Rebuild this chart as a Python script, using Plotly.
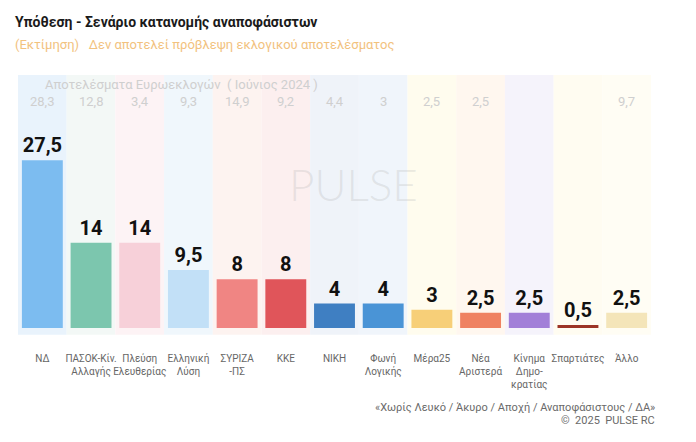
'''Pulse RC poll chart: undecided allocation scenario'''
import plotly.graph_objects as go

parties = ['ΝΔ', 'ΠΑΣΟΚ-Κίν.<br>Αλλαγής', 'Πλεύση<br>Ελευθερίας', 'Ελληνική<br>Λύση',
           'ΣΥΡΙΖΑ<br>-ΠΣ', 'ΚΚΕ', 'ΝΙΚΗ', 'Φωνή<br>Λογικής', 'Μέρα25',
           'Νέα<br>Αριστερά', 'Κίνημα<br>Δημο-<br>κρατίας', 'Σπαρτιάτες', 'Άλλο']
estimate = [27.5, 14, 14, 9.5, 8, 8, 4, 4, 3, 2.5, 2.5, 0.5, 2.5]
euro_2024 = [28.3, 12.8, 3.4, 9.3, 14.9, 9.2, 4.4, 3, 2.5, 2.5, None, None, 9.7]

bar_colors = ['#7cbcf0', '#7cc6ae', '#f7d0d9', '#c2e0f7', '#f08583', '#e0555a',
              '#3f7fc2', '#4a94d6', '#f7cf78', '#ef8262', '#a27fd8', '#9c3426', '#f4e5b9']
column_colors = ['#e9f3fc', '#f3f8f6', '#fdf3f5', '#f0f7fc', '#fdf3f0', '#fcefef',
                 '#eff3f9', '#f0f5fb', '#fffcee', '#fff7ef', '#f5f3fb', '#fffcf1', '#fffdf4']


def fmt(v):
    '''Greek style decimal comma'''
    return f'{v:g}'.replace('.', ',')


FONT = 'Roboto, sans-serif'

fig = go.Figure()
fig.add_trace(go.Bar(
    x=list(range(len(parties))), y=estimate,
    marker=dict(color=bar_colors, line=dict(width=0)),
    width=0.84,
    text=[fmt(v) for v in estimate], textposition='outside',
    textfont=dict(family=FONT, size=20, color='#111111', weight='bold'),
    cliponaxis=False, hoverinfo='skip'))

# faint coloured column behind each party
for i, c in enumerate(column_colors):
    fig.add_shape(type='rect', xref='x', yref='paper', x0=i - 0.5, x1=i + 0.5,
                  y0=0.02, y1=1, fillcolor=c, line=dict(width=0), layer='below')

# European elections results row
for i, v in enumerate(euro_2024):
    if v is not None:
        fig.add_annotation(x=i, y=37.1, text=fmt(v), showarrow=False,
                           font=dict(family=FONT, size=13, color='#cfcfcf'))
fig.add_annotation(xref='paper', x=0.04, y=39.9, xanchor='left',
                   text='Αποτελέσματα Ευρωεκλογών  ( Ιούνιος 2024 )', showarrow=False,
                   font=dict(family=FONT, size=13, color='#cfcfcf'))

# watermark
fig.add_annotation(xref='paper', yref='paper', x=0.53, y=0.59, text='PULSE',
                   showarrow=False,
                   font=dict(family='Lato, sans-serif', size=44, weight=300,
                             color='rgba(185,185,185,0.3)'))

# titles
fig.add_annotation(xref='paper', yref='paper', x=-0.008, y=1.238, xanchor='left',
                   text='<b>Υπόθεση - Σενάριο κατανομής αναποφάσιστων</b>', showarrow=False,
                   font=dict(family=FONT, size=14, color='#1a1a1a'))
fig.add_annotation(xref='paper', yref='paper', x=-0.008, y=1.152, xanchor='left',
                   text='(Εκτίμηση)   Δεν αποτελεί πρόβλεψη εκλογικού αποτελέσματος',
                   showarrow=False, font=dict(family=FONT, size=13, color='#f2c27e'))

# footer
fig.add_annotation(xref='paper', yref='paper', x=1.01, y=-0.288, xanchor='right',
                   text='«Χωρίς Λευκό / Άκυρο / Αποχή / Αναποφάσιστους / ΔΑ»',
                   showarrow=False, font=dict(family=FONT, size=11, color='#6a6a6a'))
fig.add_annotation(xref='paper', yref='paper', x=1.01, y=-0.337, xanchor='right',
                   text='©  2025  PULSE RC', showarrow=False,
                   font=dict(family=FONT, size=11, color='#6a6a6a'))

fig.update_xaxes(tickmode='array', tickvals=list(range(len(parties))), ticktext=parties,
                 range=[-0.5, len(parties) - 0.5], showgrid=False, zeroline=False,
                 ticks='outside', ticklen=9, tickcolor='rgba(0,0,0,0)', tickangle=0,
                 tickfont=dict(family=FONT, size=10, color='#666666'))
fig.update_yaxes(range=[-1.97, 41.5], visible=False)
fig.update_layout(width=696, height=442, margin=dict(l=10, r=53, t=67, b=110),
                  paper_bgcolor='white', plot_bgcolor='white', showlegend=False,
                  bargap=0.16)

fig.write_html('out.html')
